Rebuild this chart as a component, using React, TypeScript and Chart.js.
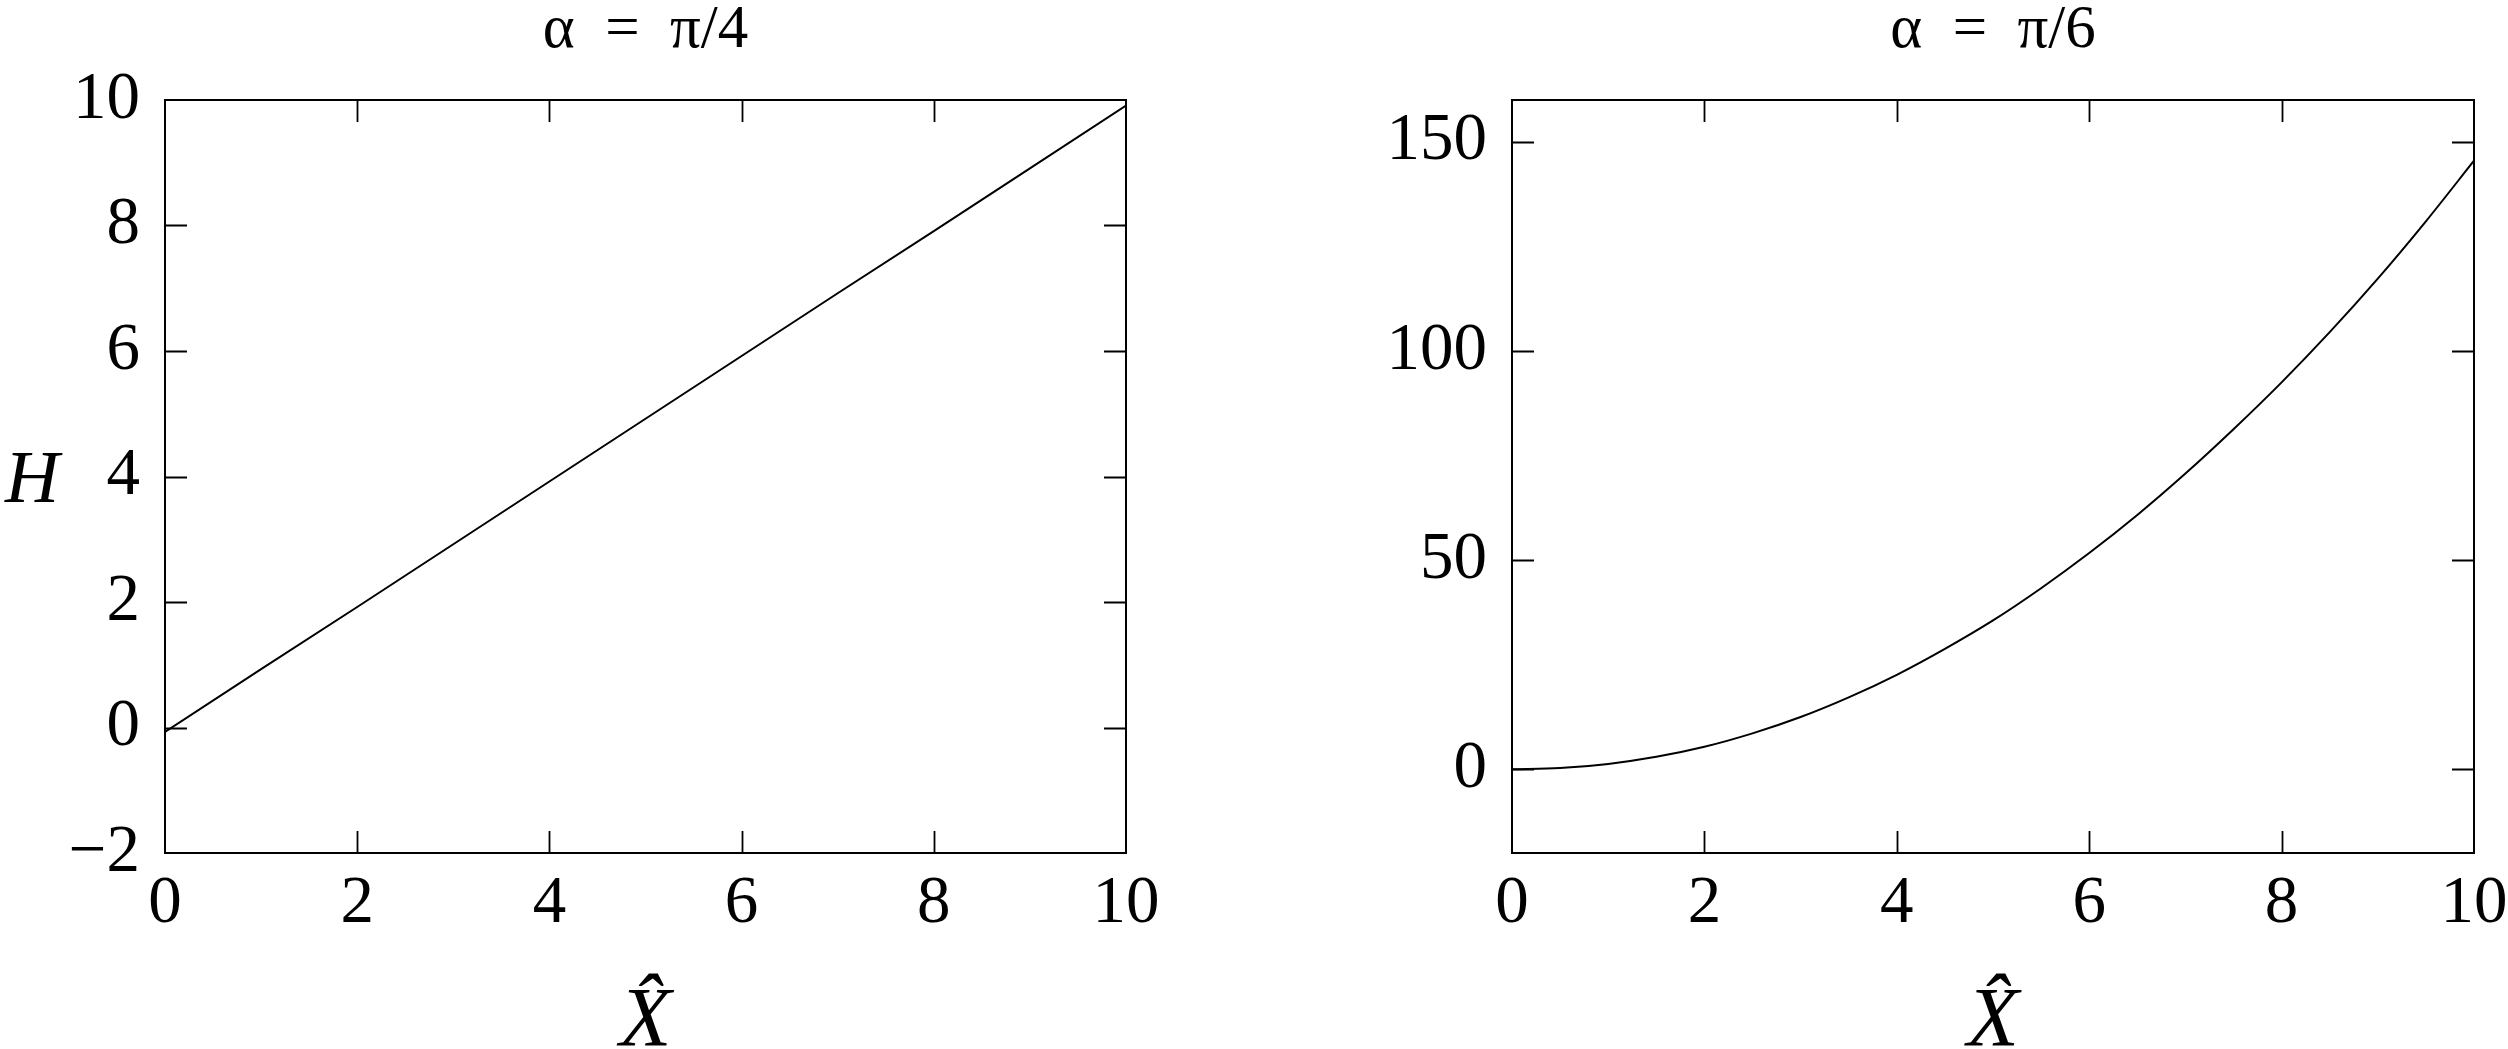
import React, { useEffect, useRef } from "react";
import { Chart, registerables } from "chart.js";

Chart.register(...registerables);

const FONT = "'Liberation Serif', 'Times New Roman', serif";

// Text
const leftTitle = "α  =  π/4";
const rightTitle = "α  =  π/6";
const xAxisLabel = "X\u0302";
const yAxisLabel = "H";

// Tick values
const xTickValues = [0, 2, 4, 6, 8, 10];
const leftYTickValues = [-2, 0, 2, 4, 6, 8, 10];
const rightYTickValues = [0, 50, 100, 150];

// Left panel (alpha = pi/4)
const leftX = [0, 1, 2, 3, 4, 5, 6, 7, 8, 9, 10];
const leftH = [-0.07, 0.93, 1.92, 2.92, 3.92, 4.92, 5.92, 6.92, 7.91, 8.91, 9.91];

// Right panel (alpha = pi/6)
const rightX = [0, 0.5, 1, 1.5, 2, 2.5, 3, 3.5, 4, 4.5, 5, 5.5, 6, 6.5, 7, 7.5, 8, 8.5, 9, 9.5, 10];
const rightH = [0, 0.3, 1.3, 3.0, 5.4, 8.6, 12.5, 17.2, 22.6, 28.8, 35.6, 43.3, 51.7, 60.8, 70.7, 81.3, 92.5, 104.5, 117.3, 131.0, 145.5];

const frameTicksPlugin = {
  id: "frameTicks",
  afterDatasetsDraw(chart: any) {
    const { ctx, chartArea, scales } = chart;
    const { left, right, top, bottom } = chartArea;
    const L = 22;
    ctx.save();
    ctx.strokeStyle = "#000";
    ctx.lineWidth = 1.8;
    ctx.beginPath();
    const xs = scales.x;
    xs.ticks.forEach((t: any) => {
      if (t.value > xs.min && t.value < xs.max) {
        const p = Math.round(xs.getPixelForValue(t.value)) + 0.5;
        ctx.moveTo(p, bottom);
        ctx.lineTo(p, bottom - L);
        ctx.moveTo(p, top);
        ctx.lineTo(p, top + L);
      }
    });
    const ys = scales.y;
    ys.ticks.forEach((t: any) => {
      if (t.value > ys.min && t.value < ys.max) {
        const p = Math.round(ys.getPixelForValue(t.value)) + 0.5;
        ctx.moveTo(left, p);
        ctx.lineTo(left + L, p);
        ctx.moveTo(right, p);
        ctx.lineTo(right - L, p);
      }
    });
    ctx.stroke();
    ctx.lineWidth = 2;
    ctx.strokeRect(left, top, right - left, bottom - top);
    ctx.restore();
  },
};

const sideLabelPlugin = {
  id: "sideLabel",
  afterDraw(chart: any, _args: any, opts: any) {
    if (!opts || !opts.text) return;
    const { ctx, chartArea } = chart;
    ctx.save();
    ctx.fillStyle = "#000";
    ctx.font = `italic 75px ${FONT}`;
    ctx.textAlign = "center";
    ctx.textBaseline = "middle";
    ctx.fillText(opts.text, opts.x, (chartArea.top + chartArea.bottom) / 2 + 6);
    ctx.restore();
  },
};

function fmt(v: number) {
  return v < 0 ? "\u2212" + Math.abs(v) : String(v);
}

function makeConfig(
  title: string,
  xs: number[],
  hs: number[],
  yMin: number,
  yMax: number,
  yTicks: number[],
  yAxisWidth: number,
  padRight: number,
  sideText: string,
  smooth: boolean
): any {
  return {
    type: "line",
    data: {
      datasets: [
        {
          data: xs.map((x, i) => ({ x, y: hs[i] })),
          borderColor: "#000",
          borderWidth: 2,
          pointRadius: 0,
          fill: false,
          tension: 0,
          cubicInterpolationMode: smooth ? "monotone" : "default",
        },
      ],
    },
    options: {
      responsive: false,
      animation: false,
      devicePixelRatio: 1,
      layout: { padding: { left: 0, right: padRight, top: 0, bottom: 0 } },
      plugins: {
        legend: { display: false },
        tooltip: { enabled: false },
        title: {
          display: true,
          text: title,
          fullSize: false,
          color: "#000",
          font: { family: FONT, size: 61, lineHeight: 1, weight: "normal" },
          padding: { top: 0, bottom: 39 },
        },
        sideLabel: { text: sideText, x: 32 },
      },
      scales: {
        x: {
          type: "linear",
          min: 0,
          max: 10,
          afterBuildTicks: (s: any) => {
            s.ticks = xTickValues.map((v) => ({ value: v }));
          },
          afterFit: (s: any) => {
            s.height = 196;
            s.paddingLeft = 0;
            s.paddingRight = 0;
          },
          grid: { display: false, drawTicks: false },
          border: { display: false },
          ticks: {
            color: "#000",
            padding: 18,
            maxRotation: 0,
            autoSkip: false,
            font: { family: FONT, size: 67, lineHeight: 1 },
            callback: (v: any) => fmt(Number(v)),
          },
          title: {
            display: true,
            text: xAxisLabel,
            color: "#000",
            font: { family: FONT, size: 85, style: "italic", lineHeight: 0.6 },
            padding: { top: 0, bottom: 0 },
          },
        },
        y: {
          type: "linear",
          min: yMin,
          max: yMax,
          afterBuildTicks: (s: any) => {
            s.ticks = yTicks.map((v) => ({ value: v }));
          },
          afterFit: (s: any) => {
            s.width = yAxisWidth;
          },
          grid: { display: false, drawTicks: false },
          border: { display: false },
          ticks: {
            color: "#000",
            padding: 25,
            autoSkip: false,
            font: { family: FONT, size: 67, lineHeight: 1 },
            callback: (v: any) => fmt(Number(v)),
          },
        },
      },
    },
    plugins: [frameTicksPlugin, sideLabelPlugin],
  };
}

function Panel(props: { left: number; config: any }) {
  const ref = useRef<HTMLCanvasElement | null>(null);
  useEffect(() => {
    if (!ref.current) return;
    const chart = new Chart(ref.current, props.config);
    return () => chart.destroy();
  }, []);
  return (
    <canvas
      ref={ref}
      width={1254}
      height={1049}
      style={{ position: "absolute", left: props.left, top: 0, width: 1254, height: 1049 }}
    />
  );
}

export default function App() {
  const leftCfg = makeConfig(leftTitle, leftX, leftH, -2, 10, leftYTickValues, 165, 128, yAxisLabel, false);
  const rightCfg = makeConfig(rightTitle, rightX, rightH, -20, 160, rightYTickValues, 258, 34, "", true);
  return (
    <div
      style={{
        position: "absolute",
        left: 0,
        top: 0,
        width: 2508,
        height: 1049,
        background: "#fff",
        overflow: "hidden",
      }}
    >
      <Panel left={0} config={leftCfg} />
      <Panel left={1254} config={rightCfg} />
    </div>
  );
}
